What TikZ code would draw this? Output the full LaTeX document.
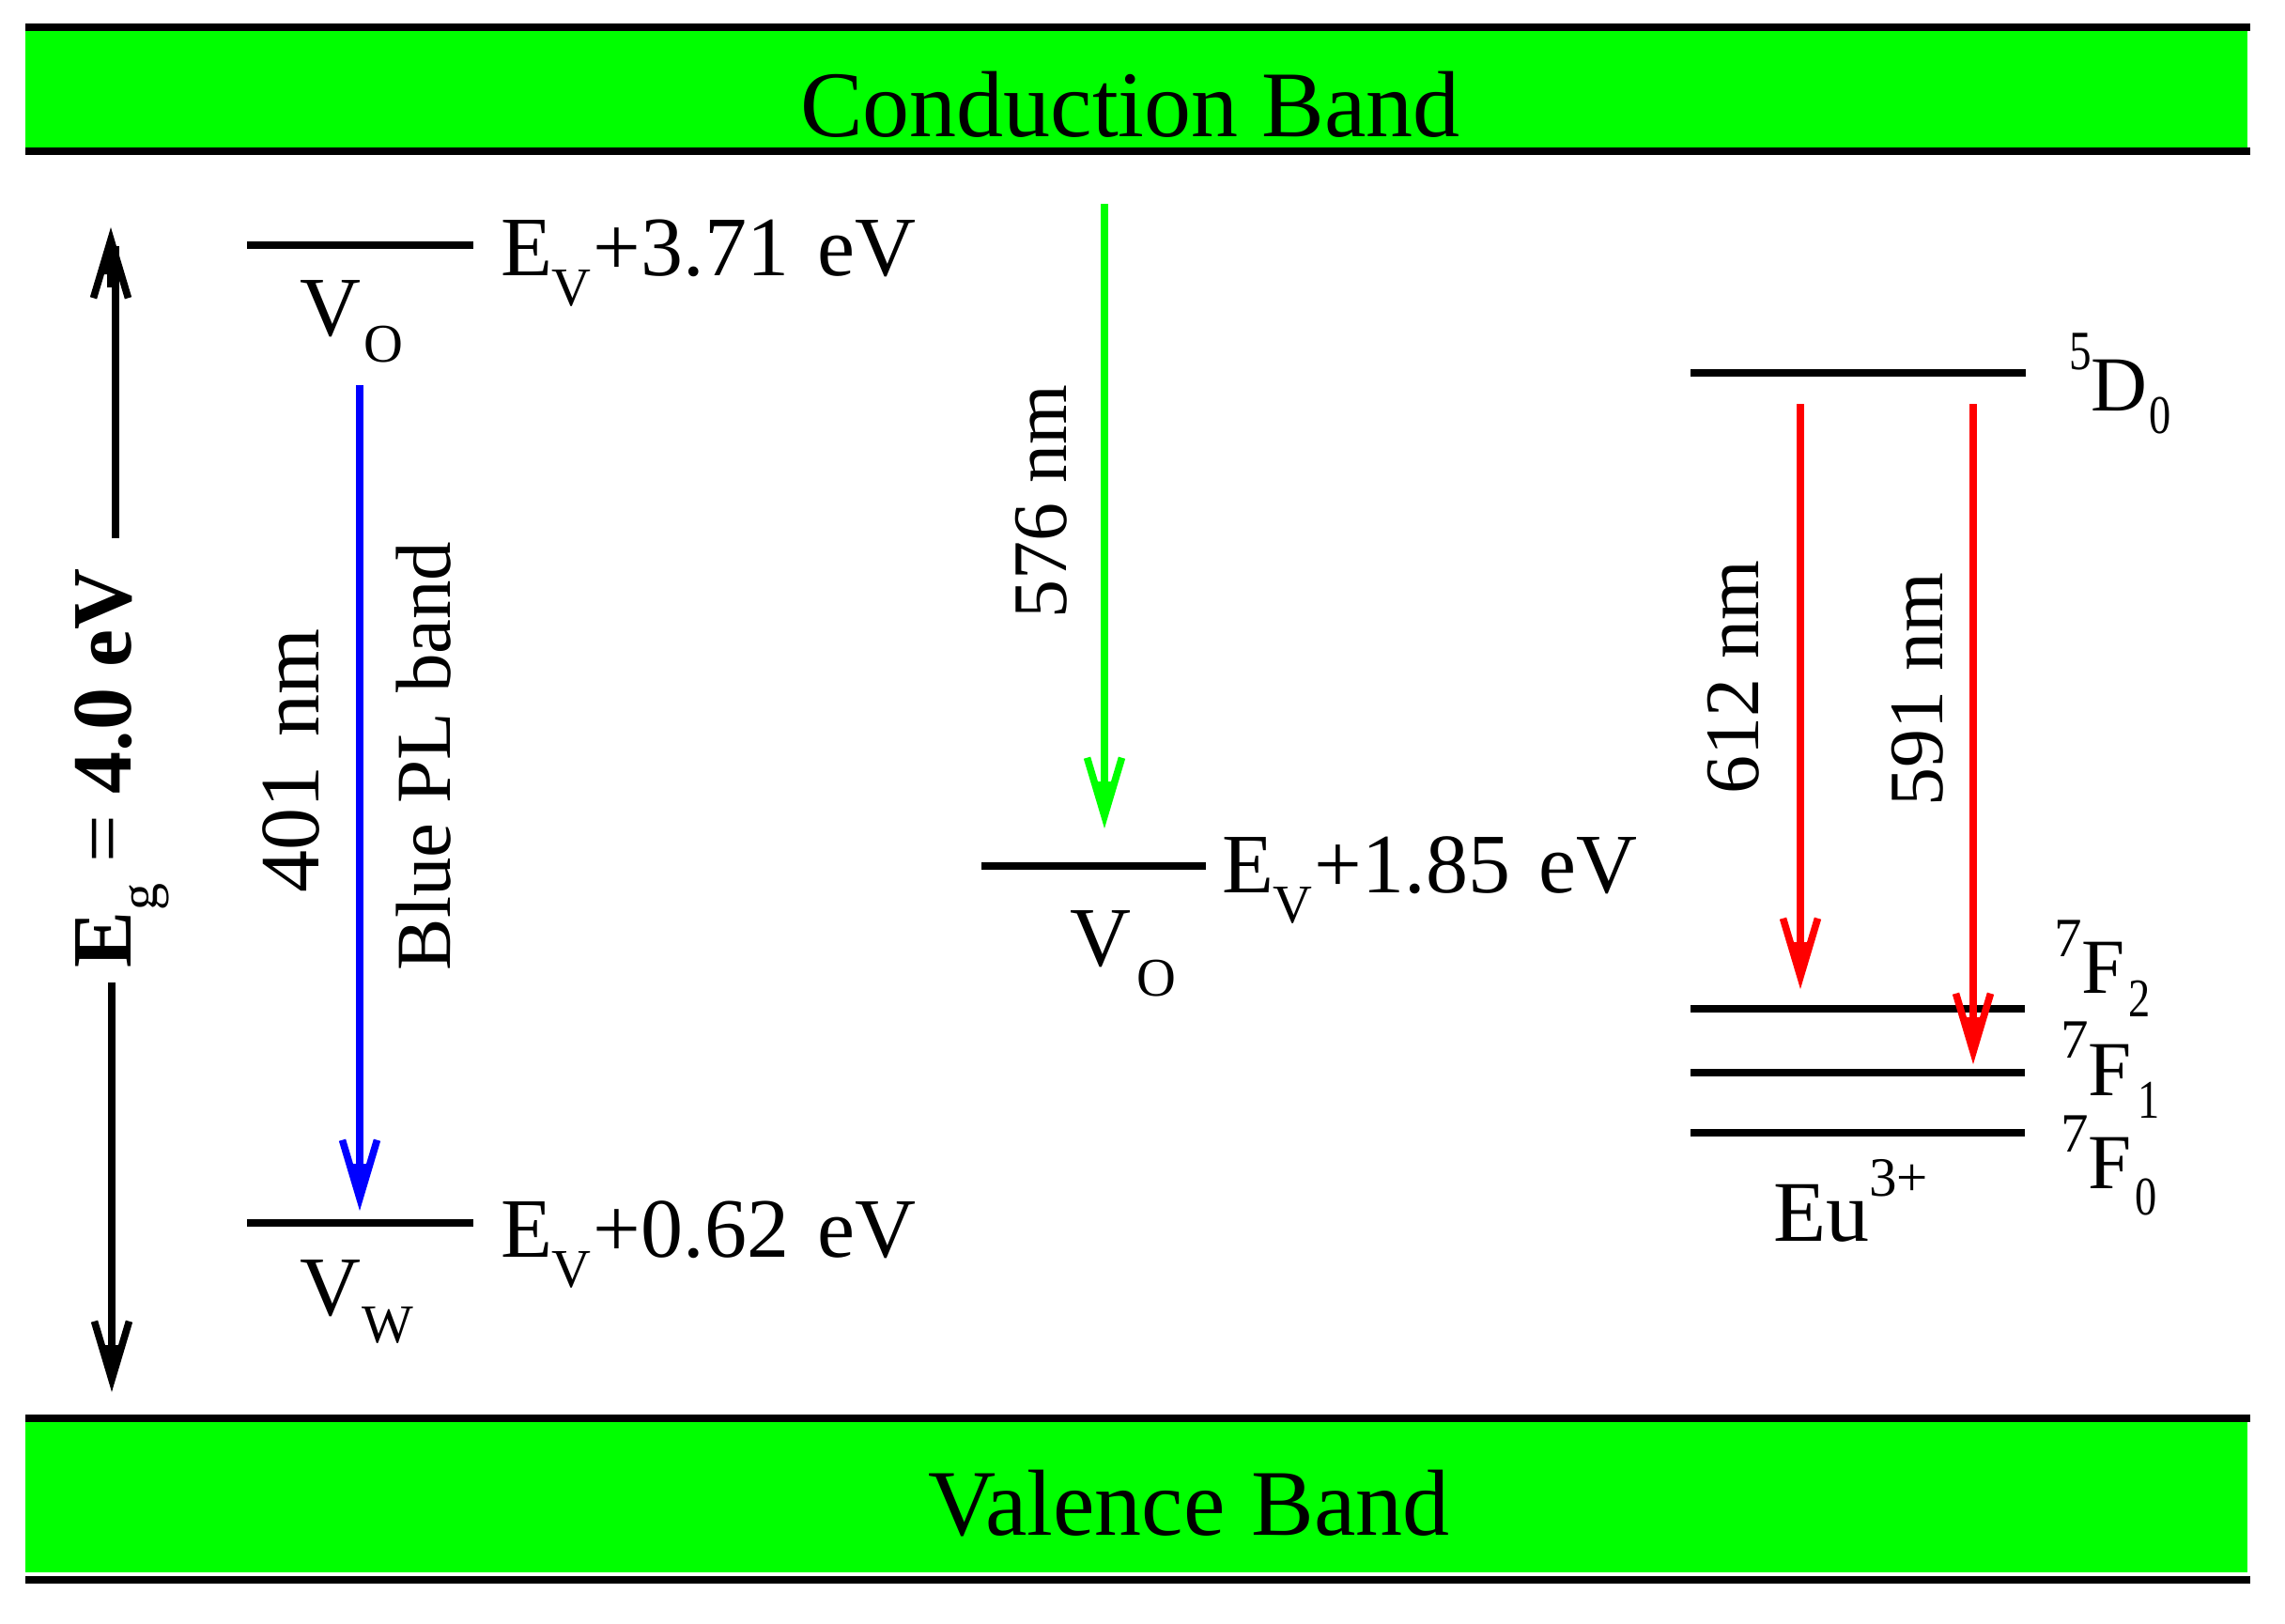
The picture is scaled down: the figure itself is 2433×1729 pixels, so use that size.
\documentclass[tikz,border=0pt]{standalone}
\usepackage{fontspec}
\usepackage{graphicx}
\setmainfont{Liberation Serif}
\usetikzlibrary{arrows.meta}
\newcommand\fsz[1]{\fontsize{#1}{#1}\selectfont}
\newcommand\dn[2]{\raisebox{-#1}{\fsz{29}#2}}
\newcommand\dd[2]{\raisebox{-#1}{\scalebox{.8}[1]{\fsz{29}#2}}}
\newcommand\up[2]{\raisebox{#1}{\fsz{29.5}#2}}
\newcommand\uu[2]{\raisebox{#1}{\scalebox{.8}[1]{\fsz{29.5}#2}}}
\definecolor{bandgreen}{RGB}{0,255,0}
\tikzset{
  lbl/.style={inner sep=0pt,outer sep=0pt,anchor=base west,text=black,font=\fsz{45}},
  lblsm/.style={lbl,font=\fsz{41.5}},
  rot/.style={lbl,rotate=90},
  rotsm/.style={lblsm,rotate=90},
  bar/.style={line width=4pt,black},
  bandfill/.style={fill=bandgreen,draw=none},
  conn/.style={line width=4pt,-{Straight Barb[length=31pt,width=18.5pt,line width=3.8pt,sep=-25pt] Triangle[length=25pt,width=12pt]}},
  plainline/.style={line width=4pt}
}
\begin{document}
\begin{tikzpicture}[x=0.5pt,y=-0.5pt]
\useasboundingbox (0,0) rectangle (2433,1729);
\fill[white] (0,0) rectangle (2433,1729);
% bands
\fill[bandfill] (27,33) rectangle (2393,157);
\fill[bandfill] (27,1514) rectangle (2393,1674);
\coordinate (ctl) at (27,29); \coordinate (ctr) at (2396,29);
\coordinate (cbl) at (27,161); \coordinate (cbr) at (2396,161);
\coordinate (vtl) at (27,1510); \coordinate (vtr) at (2396,1510);
\coordinate (vbl) at (27,1682); \coordinate (vbr) at (2396,1682);
\draw[bar] (ctl)--(ctr);
\draw[bar] (cbl)--(cbr);
\draw[bar] (vtl)--(vtr);
\draw[bar] (vbl)--(vbr);
\node[lbl,font=\fsz{50}] (cb) at (852,145) {Conduction Band};
\node[lbl,font=\fsz{50}] (vb) at (988,1634) {Valence\kern1.5pt\ Band};
% levels
\coordinate (l1a) at (263,261); \coordinate (l1b) at (504,261);
\coordinate (l2a) at (263,1302); \coordinate (l2b) at (504,1302);
\coordinate (l3a) at (1045,922); \coordinate (l3b) at (1284,922);
\coordinate (l4a) at (1800,397); \coordinate (l4b) at (2157,397);
\coordinate (l5a) at (1800,1074); \coordinate (l5b) at (2156,1074);
\coordinate (l6a) at (1800,1142); \coordinate (l6b) at (2156,1142);
\coordinate (l7a) at (1800,1206); \coordinate (l7b) at (2156,1206);
\draw[bar] (l1a)--(l1b);
\draw[bar] (l2a)--(l2b);
\draw[bar] (l3a)--(l3b);
\draw[bar] (l4a)--(l4b);
\draw[bar] (l5a)--(l5b);
\draw[bar] (l6a)--(l6b);
\draw[bar] (l7a)--(l7b);
% level labels
\node[lbl] (e1) at (533,293) {E\dn{16pt}{V}\kern1pt+3.71\kern4pt\ eV};
\node[lbl] (e2) at (533,1338) {E\dn{16pt}{V}\kern1pt+0.62\kern4pt\ eV};
\node[lbl] (e3) at (1301,950) {E\dn{16pt}{V}\kern1pt+1.85\kern4pt\ eV};
\node[lbl] (v1) at (319,357) {V\kern2pt\dn{14pt}{O}};
\node[lbl] (v2) at (319,1400) {V\kern1pt\dn{14.5pt}{W}};
\node[lbl] (v3) at (1139,1028) {V\kern3pt\dn{16pt}{O}};
\node[lblsm] (d0) at (2203,437) {\uu{22pt}{5}D\kern1pt\dd{12pt}{0}};
\node[lblsm] (f2) at (2187,1057) {\up{19.5pt}{7}F\kern2pt\dd{12.5pt}{2}};
\node[lblsm] (f1) at (2194,1166) {\up{20pt}{7}F\kern3.5pt\dd{12pt}{1}};
\node[lblsm] (f0) at (2194,1265) {\up{19.5pt}{7}F\kern2pt\dd{14pt}{0}};
\node[lbl,font=\fsz{46}] (eu) at (1888,1321) {Eu\up{24pt}{3+}};
% rotated labels
\node[rot] (eg) at (139,1030) {\textbf{E}\dn{14pt}{g} = \textbf{4.0 eV}};
\node[rot] (n401) at (339,950) {401\kern4pt\ nm};
\node[rotsm] (bpl) at (479,1033) {Blue PL band};
\node[rotsm,font=\fsz{41}] (n576) at (1135,658) {576 nm};
\node[rotsm,font=\fsz{41}] (n612) at (1872,845) {612 nm};
\node[rotsm,font=\fsz{41}] (n591) at (2068,858) {591 nm};
% arrows
\coordinate (eu1) at (123,573); \coordinate (eu2) at (123,262);
\coordinate (eh1) at (118,306); \coordinate (eh2) at (118,242);
\coordinate (ed1) at (119,1046); \coordinate (ed2) at (119,1482);
\draw[plainline,black] (eu1)--(eu2);
\draw[conn,black] (eh1)--(eh2);
\draw[conn,black] (ed1)--(ed2);
\coordinate (bs) at (383,410); \coordinate (be) at (383,1289);
\draw[conn,blue] (bs)--(be);
\coordinate (gs) at (1176,217); \coordinate (ge) at (1176,882);
\draw[conn,bandgreen] (gs)--(ge);
\coordinate (r1s) at (1917,430); \coordinate (r1e) at (1917,1053);
\coordinate (r2s) at (2101,430); \coordinate (r2e) at (2101,1133);
\draw[conn,red] (r1s)--(r1e);
\draw[conn,red] (r2s)--(r2e);
\end{tikzpicture}
\end{document}
